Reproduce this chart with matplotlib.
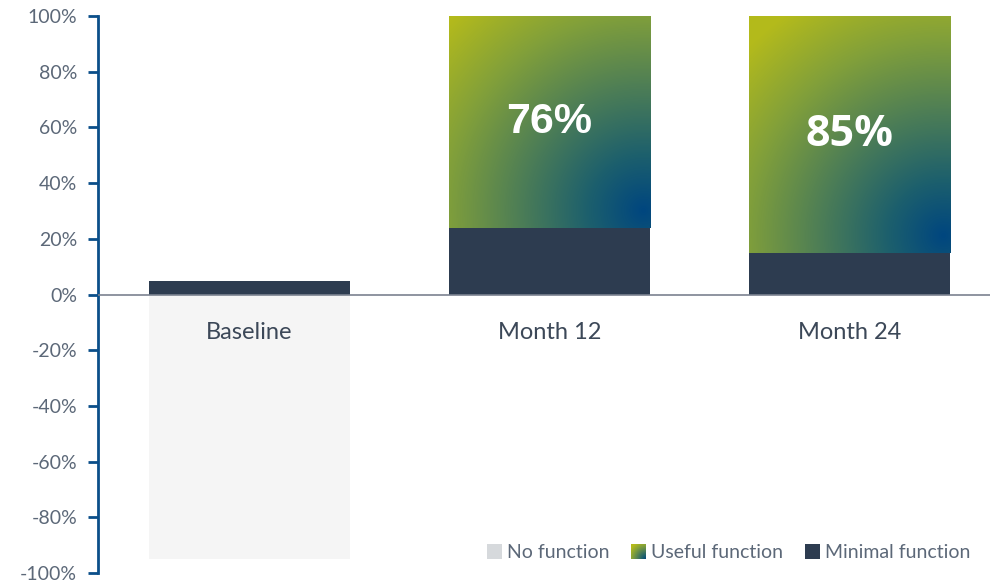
import numpy as np
import matplotlib
matplotlib.use('Agg')
import matplotlib.pyplot as plt
from matplotlib.colors import LinearSegmentedColormap
from matplotlib.patches import Patch, Rectangle
from matplotlib.legend_handler import HandlerBase
from matplotlib.image import BboxImage
from matplotlib.transforms import Bbox, TransformedBbox
from matplotlib.ticker import FuncFormatter
from matplotlib.font_manager import FontProperties

plt.rcParams['font.family'] = ['Lato', 'DejaVu Sans']

categories = ['Baseline', 'Month 12', 'Month 24']
no_function = [-95, 0, 0]
minimal_function = [5, 24, 15]
useful_function = [0, 76, 85]
useful_labels = ['', '76%', '85%']

yticks = list(range(-100, 101, 20))

grad = LinearSegmentedColormap.from_list('useful', [
    (0.0, '#00467f'), (0.18, '#1c5f6d'), (0.42, '#4f7f55'),
    (0.66, '#82a03a'), (0.9, '#b3ba1c'), (1.0, '#b4bb1a')])

dark = '#2d3c50'
light = '#f5f5f5'
spine_blue = '#0b4f8a'
tick_col = '#5c6878'
label_col = '#3c4858'

W, H = 992, 584
fig = plt.figure(figsize=(W / 100, H / 100), dpi=100)
ax = fig.add_axes([98 / W, 1 - 573 / H, 892 / W, 557 / H])

x = np.arange(len(categories))
width = 0.67

ax.bar(x, no_function, width, color=light, zorder=1)
ax.bar(x, minimal_function, width, color=dark, zorder=2)


def gradient_image(w_px, h_px, radius=300.0, off=(8, 18)):
    gx, gy = np.meshgrid(np.arange(w_px), np.arange(h_px))
    # distance from a point near the bottom-right corner (row 0 = top)
    d = np.hypot(gx - (w_px - off[0]), gy - (h_px - off[1]))
    return np.clip(d / radius, 0, 1)


px_per_unit_y = 557 / 200
px_per_unit_x = 892 / (2.468 + 0.505)
label_fonts = [None,
               FontProperties(family='Liberation Sans', weight='bold', size=31),
               FontProperties(family='Open Sans', weight='bold', size=31)]
for i, (base, val, lab) in enumerate(zip(minimal_function, useful_function, useful_labels)):
    if val <= 0:
        continue
    left, right = x[i] - width / 2, x[i] + width / 2
    bottom, top = base, base + val
    w_px = int(round(width * px_per_unit_x))
    h_px = int(round(val * px_per_unit_y))
    img = gradient_image(w_px, h_px)
    ax.imshow(img, cmap=grad, vmin=0, vmax=1, extent=(left, right, bottom, top),
              origin='upper', aspect='auto', interpolation='bilinear', zorder=2)
    ax.text(x[i], bottom + val / 2, lab, ha='center', va='center', color='white',
            fontproperties=label_fonts[i], zorder=4)

ax.axhline(0, color='#7b8290', lw=1.2, zorder=3)

for i, c in enumerate(categories):
    ax.text(x[i], -10, c, ha='center', va='top', color=label_col, fontsize=17, zorder=4)

ax.set_xlim(-0.505, 2.468)
ax.set_ylim(-100, 100)
ax.set_xticks([])
ax.set_yticks(yticks)
ax.yaxis.set_major_formatter(FuncFormatter(lambda v, p: f'{int(v)}%'))
ax.tick_params(axis='y', colors=spine_blue, labelcolor=tick_col, labelsize=14,
               length=7, width=2, direction='out', pad=8)
for s in ['top', 'right', 'bottom']:
    ax.spines[s].set_visible(False)
ax.spines['left'].set_color(spine_blue)
ax.spines['left'].set_linewidth(2)


class GradientHandler(HandlerBase):
    def create_artists(self, legend, orig_handle, xdescent, ydescent, width, height, fontsize, trans):
        s = height
        x0 = -xdescent + (width - s) / 2
        bb = TransformedBbox(Bbox.from_bounds(x0, -ydescent, s, s), trans)
        im = BboxImage(bb, cmap=grad, norm=plt.Normalize(0, 1), interpolation='bilinear')
        im.set_data(gradient_image(40, 40, radius=55, off=(0, 0)))
        return [im]


class SquareHandler(HandlerBase):
    def create_artists(self, legend, orig_handle, xdescent, ydescent, width, height, fontsize, trans):
        s = height
        r = Rectangle((-xdescent + (width - s) / 2, -ydescent), s, s,
                      facecolor=orig_handle.get_facecolor(), edgecolor='none', transform=trans)
        return [r]


h_no = Patch(facecolor='#d6d9dc')
h_use = Patch(facecolor='#7a9a40')
h_min = Patch(facecolor=dark)
leg = ax.legend([h_no, h_use, h_min], ['No function', 'Useful function', 'Minimal function'],
                handler_map={h_no: SquareHandler(), h_use: GradientHandler(), h_min: SquareHandler()},
                loc='lower right', bbox_to_anchor=(0.991, 0.0), ncol=3, frameon=False,
                fontsize=14, handlelength=0.8, handleheight=0.8, handletextpad=0.25,
                columnspacing=1.1, borderaxespad=0.2)
for t in leg.get_texts():
    t.set_color(tick_col)

fig.savefig('out.png', dpi=100)
